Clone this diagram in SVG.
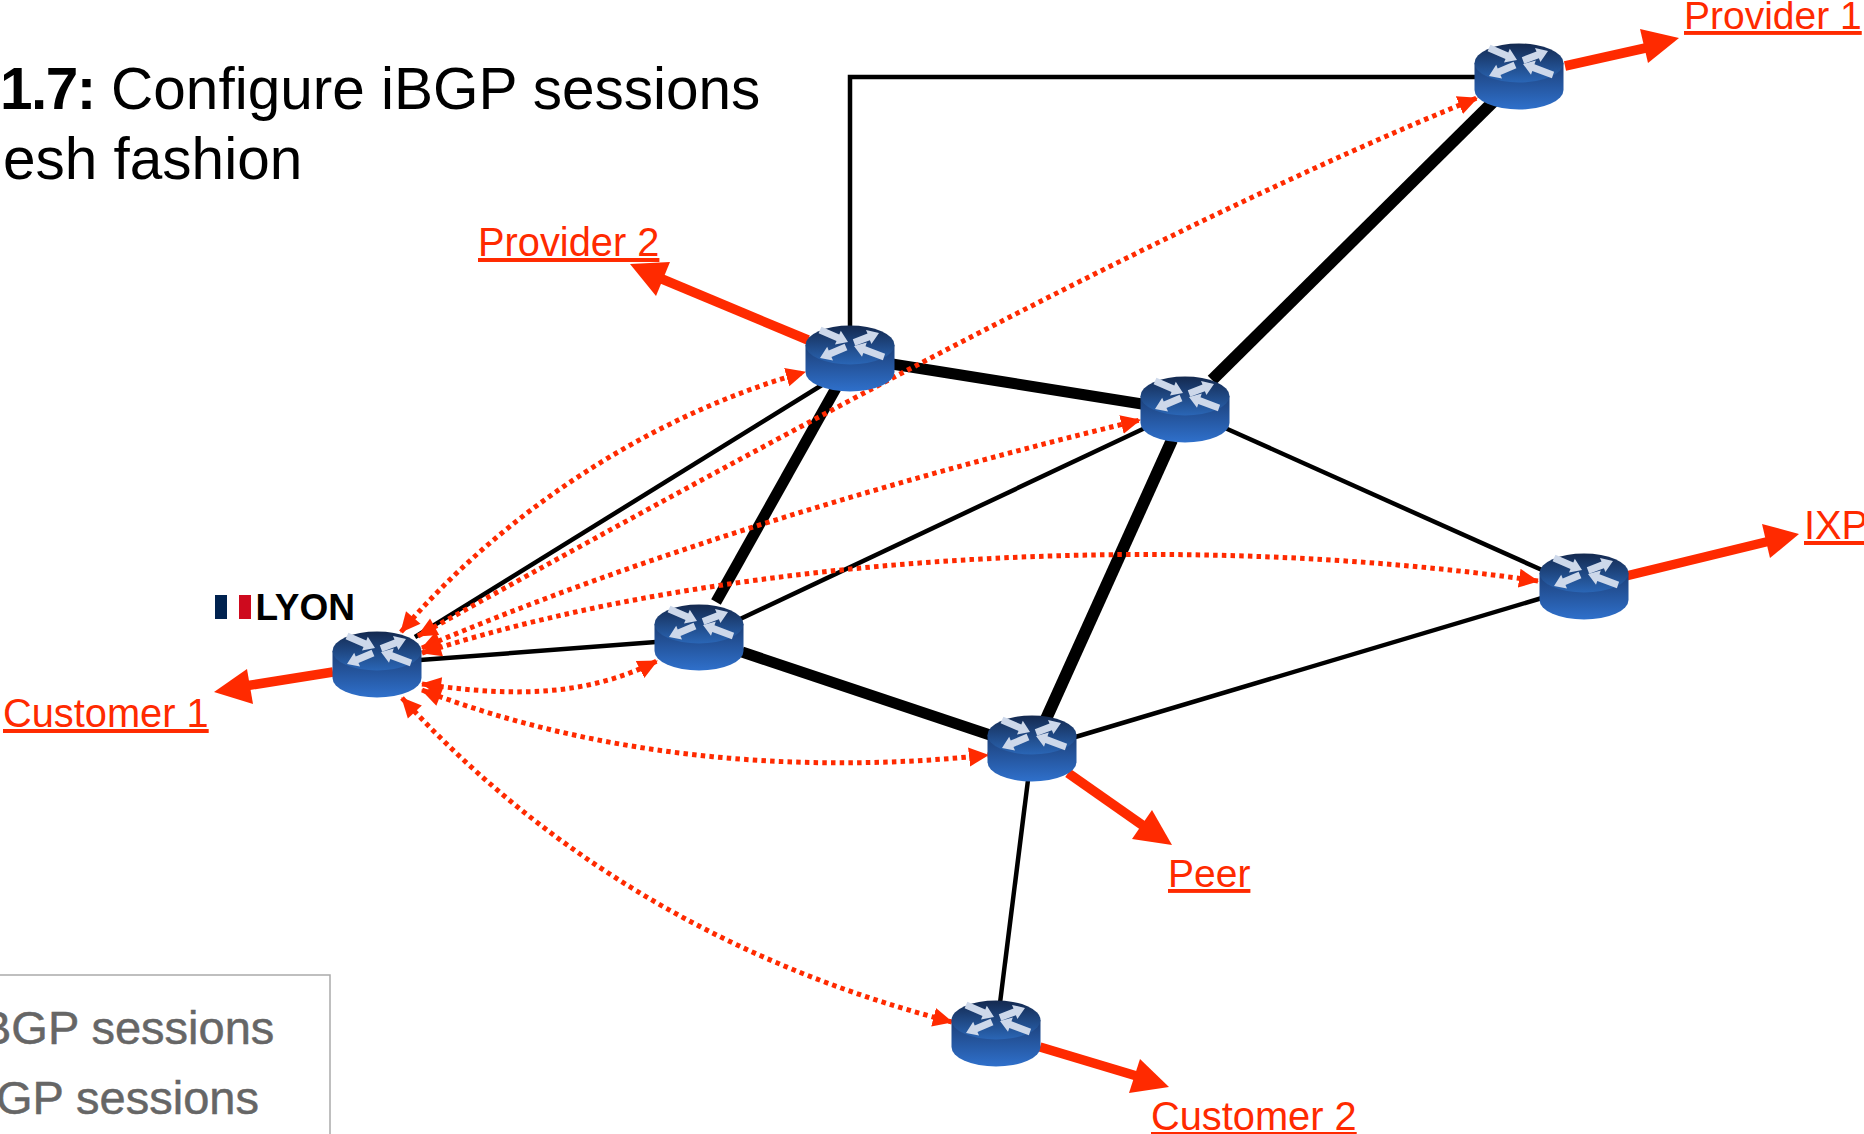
<svg xmlns="http://www.w3.org/2000/svg" width="1864" height="1134" viewBox="0 0 1864 1134">
<style>
text{font-family:"Liberation Sans",Arial,sans-serif}
.title{font-size:58.5px;fill:#000}
.lab{font-size:39.8px;fill:#ff2a00;text-decoration:underline}
.leg{font-size:47px;fill:#666;stroke:#666;stroke-width:.5}
.k{fill:none;stroke:#000;stroke-width:4.5}
.K{fill:none;stroke:#000;stroke-width:11}
.K2{fill:none;stroke:#000;stroke-width:12}
.r{fill:none;stroke:#ff2a00;stroke-width:9.500}
.d{fill:none;stroke:#ff2a00;stroke-width:5;stroke-dasharray:4.500 4.200;marker-start:url(#ds);marker-end:url(#de)}
</style>
<defs>
<marker id="ds" markerUnits="userSpaceOnUse" markerWidth="24" markerHeight="24" refX="1" refY="12" orient="auto"><path d="M0 12L20 2.500V21.500Z" fill="#ff2a00"/></marker>
<marker id="de" markerUnits="userSpaceOnUse" markerWidth="24" markerHeight="24" refX="19" refY="12" orient="auto"><path d="M20 12L0 2.500V21.500Z" fill="#ff2a00"/></marker>
<linearGradient id="gt" x1="0" y1="0" x2="0" y2="1"><stop offset="0" stop-color="#14294f"/><stop offset="1" stop-color="#2a66b6"/></linearGradient>
<linearGradient id="gb" x1="0" y1="0" x2="0" y2="1"><stop offset="0" stop-color="#1c3f78"/><stop offset="1" stop-color="#2f70cb"/></linearGradient>
<g id="router">
<path d="M-44.500 0V27A44.500 19.500 0 0 0 44.500 27V0Z" fill="url(#gb)"/>
<ellipse cx="0" cy="0" rx="44.500" ry="19.500" fill="url(#gt)"/>
<g fill="#cdd8ea">
<path d="M-31.400-11.800L-13.500-4.100L-15-.4L-2-3L-9.200-14.200L-10.700-10.500L-28.600-18.200Z"/>
<path d="M5.200.8L19.900-4.800L21.400-1.100L29-12L16-15.100L17.500-11.400L2.800-5.800Z"/>
<path d="M-2.600 5.200L-18.500 12L-17 15.600L-30 13L-22.800 1.800L-21.300 5.500L-5.400-1.200Z"/>
<path d="M35.100 8.700L15.500 1.300L16.800-2.500L4 1L12 11.700L13.300 7.900L32.900 15.300Z"/>
</g>
</g>
</defs>
<rect width="1864" height="1134" fill="#fff"/>
<g id="title">
<text class="title" x="0" y="109"><tspan font-weight="700" letter-spacing="-1.500">1.7:</tspan> Configure iBGP sessions</text>
<text class="title" x="3" y="179">esh fashion</text>
</g>
<g id="legend">
<path d="M0 975H330V1134" fill="none" stroke="#aaa" stroke-width="1.500"/>
<text class="leg" x="-20" y="1044">BGP sessions</text>
<text class="leg" x="-4" y="1114">GP sessions</text>
</g>
<g id="connectors">
<path class="k" d="M850 330V77H1480"/>
<path class="k" d="M415 637L822 385"/>
<path class="k" d="M420 660L656 642"/>
<path class="k" d="M738 620L1145 428"/>
<path class="k" d="M1225 428L1542 570"/>
<path class="k" d="M1542 598L1072 738"/>
<path class="k" d="M1028 780L1000 1003"/>
<path class="K" d="M892 364L1142 404"/>
<path class="K" d="M836 388L716 602"/>
<path class="K2" d="M1212 380L1494 101"/>
<path class="K2" d="M1172 440L1046 719"/>
<path class="K" d="M742 652L990 735"/>
<g id="ebgp">
<path class="r" d="M1565 66L1650 47"/><path d="M1679 38L1640 29L1648 63Z" fill="#ff2a00"/>
<path class="r" d="M808 340L662 279"/><path d="M630 264L656 296L670 262Z" fill="#ff2a00"/>
<path class="r" d="M333 672L245 686"/><path d="M214 692L253 704L247 669Z" fill="#ff2a00"/>
<path class="r" d="M1626 576L1770 541"/><path d="M1799 534L1762 524L1770 558Z" fill="#ff2a00"/>
<path class="r" d="M1068 773L1145 827"/><path d="M1172 845L1152 810L1132 839Z" fill="#ff2a00"/>
<path class="r" d="M1040 1047L1140 1077"/><path d="M1169 1087L1140 1059L1129 1093Z" fill="#ff2a00"/>
</g>
<g id="ibgp">
<path class="d" d="M401 632C500 515 650 415 805 372"/>
<path class="d" d="M418 636C700 480 1150 230 1477 98"/>
<path class="d" d="M422 648C640 555 900 478 1140 420"/>
<path class="d" d="M422 653C750 548 1200 532 1538 581"/>
<path class="d" d="M422 684C500 695 580 700 657 661"/>
<path class="d" d="M422 690C600 758 800 775 988 755"/>
<path class="d" d="M402 698C560 870 750 970 952 1022"/>
</g>
</g>
<g id="r-lyon"><use href="#router" x="377" y="651"/></g>
<g id="r-west"><use href="#router" x="699" y="624"/></g>
<g id="r-north"><use href="#router" x="850" y="345"/></g>
<g id="r-center"><use href="#router" x="1185" y="396"/></g>
<g id="r-south"><use href="#router" x="1032" y="735"/></g>
<g id="r-customer2"><use href="#router" x="996" y="1020"/></g>
<g id="r-ixp"><use href="#router" x="1584" y="573"/></g>
<g id="r-provider1"><use href="#router" x="1519" y="63"/></g>
<g id="lyon-label">
<rect x="215" y="595" width="12" height="24" fill="#00224f"/>
<rect x="239" y="595" width="12" height="24" fill="#ce0a1e"/>
<text x="255.500" y="620" font-size="37" font-weight="700">LYON</text>
</g>
<g id="labels">
<text class="lab" x="1684" y="29" style="font-size:39px">Provider 1</text>
<text class="lab" x="478" y="256">Provider 2</text>
<text class="lab" x="3" y="727">Customer 1</text>
<text class="lab" x="1804" y="539">IXP</text>
<text class="lab" x="1168" y="887" style="font-size:39px">Peer</text>
<text class="lab" x="1151" y="1130">Customer 2</text>
</g>
</svg>
